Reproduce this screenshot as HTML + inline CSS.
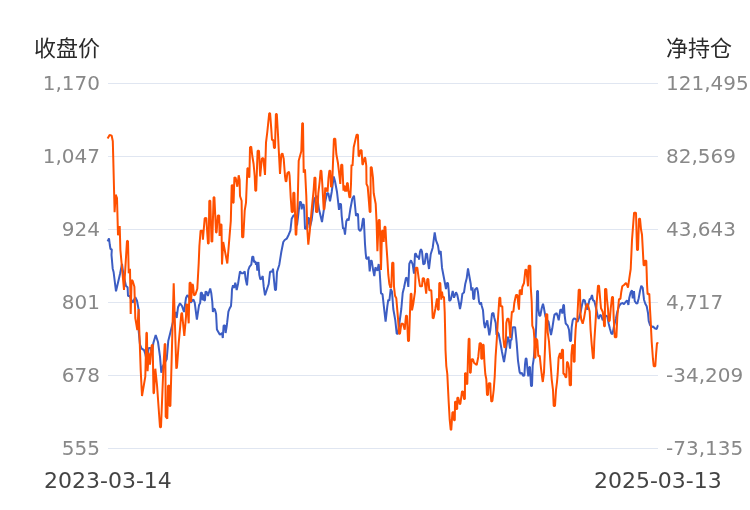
<!DOCTYPE html>
<html><head><meta charset="utf-8">
<style>
html,body{margin:0;padding:0;background:#fff;}
svg{display:block}
text{font-family:"DejaVu Sans","Noto Sans CJK SC",sans-serif;}
.ax{font-size:20px;fill:#888}
.ti{font-size:22px;fill:#2a2a2a;font-family:"Liberation Sans","Noto Sans CJK SC",sans-serif}
.dt{font-size:22px;fill:#444}
</style></head><body>
<svg width="750" height="510" viewBox="0 0 750 510">
<rect width="750" height="510" fill="#fff"/>
<g stroke="#e0e6f1" stroke-width="1" shape-rendering="crispEdges">
<line x1="108" x2="658" y1="83.5" y2="83.5"/>
<line x1="108" x2="658" y1="156.5" y2="156.5"/>
<line x1="108" x2="658" y1="229.5" y2="229.5"/>
<line x1="108" x2="658" y1="302.5" y2="302.5"/>
<line x1="108" x2="658" y1="375.5" y2="375.5"/>
<line x1="108" x2="658" y1="448.5" y2="448.5"/>
</g>
<g class="ax" text-anchor="end">
<text x="100" y="90">1,170</text>
<text x="100" y="163">1,047</text>
<text x="100" y="236">924</text>
<text x="100" y="309">801</text>
<text x="100" y="382">678</text>
<text x="100" y="455">555</text>
</g>
<g class="ax" text-anchor="start">
<text x="666" y="90">121,495</text>
<text x="666" y="163">82,569</text>
<text x="666" y="236">43,643</text>
<text x="666" y="309">4,717</text>
<text x="666" y="382">-34,209</text>
<text x="666" y="455">-73,135</text>
</g>
<g fill="none" stroke-width="2" stroke-linejoin="bevel" stroke-linecap="butt">
<path stroke="#3c5dc3" d="M107.6 241.3 L109.0 238.3 L109.8 245.0 L110.5 249.0 L111.8 249.5 L111.5 255.0 L112.7 268.7 L113.6 272.0 L116.0 291.3 L120.0 274.0 L122.0 264.0 L123.3 274.0 L126.0 286.0 L127.6 287.3 L128.0 296.0 L129.6 296.0 L132.7 302.7 L135.3 297.3 L137.0 300.7 L138.7 310.0 L138.7 331.3 L140.0 344.7 L141.6 348.7 L144.0 350.0 L145.3 354.0 L147.0 362.0 L148.7 348.0 L150.7 348.0 L152.0 354.0 L153.3 343.3 L155.7 335.0 L158.0 342.0 L160.0 356.7 L161.3 372.7 L163.0 366.0 L166.7 359.3 L168.3 340.7 L171.3 328.7 L174.0 318.0 L175.5 312.0 L176.7 318.0 L178.0 307.3 L180.0 303.3 L182.0 306.0 L184.0 312.0 L186.0 298.0 L187.3 295.3 L188.7 296.7 L190.7 302.7 L193.3 299.3 L194.7 302.7 L196.9 319.5 L199.0 305.3 L200.2 302.9 L200.8 292.8 L202.0 292.8 L202.5 300.3 L203.4 294.5 L204.3 300.5 L205.0 300.3 L205.5 291.6 L206.7 292.0 L207.9 296.0 L208.7 293.2 L210.2 288.5 L211.3 293.3 L212.3 302.0 L212.9 312.0 L213.9 308.5 L215.0 309.7 L216.1 314.0 L216.9 329.5 L219.9 334.7 L222.0 333.0 L222.8 338.0 L223.6 325.5 L225.0 325.5 L225.6 333.0 L226.8 325.5 L227.2 322.2 L228.4 311.7 L229.6 308.5 L231.0 306.0 L231.6 298.0 L232.0 289.3 L233.0 285.3 L234.0 288.0 L235.3 282.7 L236.7 290.0 L238.0 284.0 L240.0 271.3 L241.6 273.3 L243.3 273.3 L244.7 271.3 L245.6 278.7 L247.0 285.3 L248.3 270.0 L249.6 266.7 L251.3 264.7 L252.3 256.7 L253.3 256.7 L254.0 262.0 L255.3 261.3 L256.0 264.7 L256.7 262.0 L257.3 270.7 L258.4 262.0 L259.3 274.7 L260.3 279.3 L261.6 278.7 L262.7 276.0 L263.7 286.7 L265.0 295.3 L266.7 290.0 L268.7 284.0 L270.0 272.0 L271.3 271.3 L272.3 272.0 L273.0 268.7 L274.0 280.0 L275.0 290.0 L276.0 290.0 L277.0 272.0 L279.3 264.7 L281.3 252.0 L283.3 242.0 L284.7 240.0 L286.7 238.7 L288.7 234.7 L290.4 230.7 L291.7 218.7 L293.3 215.7 L295.3 214.7 L297.0 225.3 L298.3 214.7 L299.7 202.0 L301.0 202.0 L301.7 209.3 L302.3 204.7 L303.7 204.7 L304.3 210.7 L305.0 228.7 L306.5 228.7 L308.3 218.0 L309.0 218.0 L309.7 228.0 L311.7 220.0 L314.3 198.7 L317.0 196.0 L319.0 209.3 L320.3 214.7 L322.0 222.0 L323.7 210.7 L325.0 202.7 L327.0 193.3 L328.3 193.3 L330.0 201.3 L331.7 192.0 L333.7 176.5 L335.0 181.3 L337.0 192.0 L338.3 203.3 L339.0 210.0 L339.7 204.0 L341.0 204.0 L341.7 216.0 L343.0 228.7 L344.0 228.0 L345.0 234.7 L346.3 221.3 L347.7 218.7 L348.6 220.7 L350.3 209.3 L352.3 198.7 L354.0 195.7 L355.0 205.3 L356.0 216.0 L357.0 214.0 L358.0 214.0 L358.7 229.3 L360.3 231.0 L361.7 228.0 L363.0 218.7 L363.8 218.7 L364.3 229.3 L365.0 244.0 L365.7 253.3 L366.3 258.7 L367.7 258.7 L368.6 256.7 L369.7 271.3 L370.7 260.7 L371.7 260.7 L373.0 269.3 L374.3 276.0 L375.4 267.3 L376.3 268.7 L377.4 270.7 L378.7 264.0 L379.7 272.0 L381.0 293.3 L382.5 294.2 L384.0 307.7 L385.6 321.7 L387.3 306.3 L388.3 299.7 L389.3 301.0 L390.7 289.0 L392.0 291.7 L393.3 309.0 L395.3 320.3 L396.7 333.7 L398.0 333.7 L399.7 321.0 L401.3 309.0 L402.7 293.0 L404.0 287.7 L406.0 277.7 L407.3 278.3 L408.3 287.0 L409.3 263.7 L411.0 260.3 L412.7 264.3 L414.0 273.7 L415.0 253.7 L416.0 253.7 L417.0 257.0 L418.7 256.3 L419.0 259.7 L420.0 251.7 L421.0 249.0 L422.0 251.7 L423.3 264.3 L424.7 263.7 L426.0 253.7 L427.0 253.7 L428.0 262.3 L429.0 269.0 L430.7 254.3 L432.7 247.7 L434.7 232.3 L436.0 240.3 L438.0 245.7 L439.3 254.3 L440.7 251.0 L442.0 267.7 L444.0 278.3 L446.0 289.0 L447.0 283.0 L448.0 283.0 L448.7 290.3 L449.3 301.0 L450.7 299.7 L452.7 291.0 L454.0 297.7 L456.0 292.3 L457.3 295.0 L458.7 301.7 L460.0 309.0 L461.3 302.3 L462.4 293.7 L464.0 292.5 L465.3 283.7 L466.7 278.3 L468.0 268.3 L469.0 274.3 L470.7 283.7 L471.3 290.3 L472.5 287.3 L473.3 299.0 L474.2 299.0 L475.0 289.5 L477.0 287.7 L478.0 292.3 L479.0 301.7 L480.0 304.5 L481.0 302.3 L481.7 305.7 L483.0 310.3 L484.0 323.0 L485.0 328.0 L486.3 323.0 L487.3 320.3 L488.0 326.0 L489.3 335.3 L490.3 330.0 L491.0 323.0 L492.0 313.7 L493.4 313.0 L494.3 317.7 L495.7 323.0 L496.5 335.0 L497.5 332.0 L498.7 334.0 L500.0 340.7 L502.0 352.0 L504.0 362.0 L505.7 351.3 L507.0 342.0 L508.0 336.7 L509.0 340.7 L510.0 348.7 L510.7 340.0 L511.5 340.0 L512.8 327.2 L515.1 327.2 L516.0 336.0 L516.7 343.3 L518.0 360.7 L519.6 372.0 L520.7 374.0 L521.7 372.7 L523.3 376.0 L524.4 375.3 L525.0 364.7 L525.7 358.5 L526.5 358.5 L527.4 368.3 L528.3 376.5 L529.3 367.0 L530.0 367.0 L531.0 386.0 L532.0 386.0 L532.7 365.7 L533.7 359.0 L535.7 337.0 L536.3 323.0 L537.1 291.0 L538.0 291.0 L538.3 308.3 L539.3 315.7 L540.3 315.7 L541.7 308.3 L543.0 303.7 L544.0 308.3 L545.4 316.3 L547.0 320.0 L548.5 321.7 L549.7 328.3 L551.0 335.0 L552.3 328.3 L553.7 319.0 L554.5 314.3 L555.5 314.3 L556.6 313.0 L557.7 316.3 L558.7 320.3 L560.3 309.7 L561.7 309.7 L562.3 313.7 L563.3 305.0 L564.0 305.0 L564.6 315.0 L565.7 323.5 L567.7 325.7 L569.0 329.7 L570.0 341.0 L571.0 341.0 L571.7 327.0 L572.7 320.3 L574.0 318.3 L575.7 319.0 L577.5 322.0 L579.0 318.0 L580.7 311.7 L582.0 305.0 L583.3 299.7 L584.7 300.3 L586.0 306.3 L587.3 309.7 L588.5 304.0 L589.7 299.0 L590.7 299.0 L592.0 295.0 L593.0 300.3 L594.3 301.0 L595.3 305.0 L596.5 310.0 L597.7 315.7 L598.7 319.0 L600.0 315.0 L601.3 315.7 L602.7 320.3 L604.0 318.0 L606.0 315.7 L607.3 316.3 L608.7 323.7 L610.0 329.0 L611.3 333.5 L612.5 334.0 L614.0 326.3 L616.0 318.3 L617.3 311.7 L619.0 306.3 L620.7 303.7 L622.7 303.0 L624.0 304.3 L625.3 302.3 L627.0 300.3 L628.4 305.0 L629.3 297.7 L630.7 292.3 L632.0 290.3 L632.7 298.3 L634.0 291.0 L634.7 301.0 L636.0 303.0 L637.3 303.7 L638.7 298.3 L640.0 291.0 L641.3 285.7 L642.7 287.7 L644.0 299.7 L645.3 303.7 L646.7 306.3 L648.0 313.0 L648.7 321.0 L650.0 325.0 L652.0 327.0 L653.3 326.5 L654.7 328.3 L656.7 329.0 L657.7 325.7 L658.4 325.7"/>
<path stroke="#ff5000" d="M107.6 138.4 L109.6 134.9 L111.7 135.7 L112.8 141.3 L113.3 160.0 L114.0 188.0 L114.6 212.3 L115.7 194.7 L117.0 198.0 L118.0 235.3 L119.7 226.0 L120.4 250.0 L124.0 290.0 L127.0 240.7 L128.0 241.3 L128.7 273.3 L130.0 268.7 L130.7 314.0 L131.6 280.0 L132.7 281.0 L134.4 286.7 L135.3 318.0 L137.3 330.0 L138.6 309.0 L139.5 336.0 L140.7 370.0 L142.0 396.0 L145.3 376.7 L146.4 332.7 L146.9 332.7 L147.6 371.3 L148.7 352.7 L150.0 364.7 L151.7 345.3 L152.7 344.7 L153.5 393.3 L154.0 393.3 L155.3 368.7 L157.0 385.0 L160.0 427.3 L161.0 427.3 L163.3 370.0 L164.7 344.0 L165.3 344.0 L165.7 416.7 L167.3 418.7 L168.0 386.0 L169.3 385.3 L169.6 406.0 L170.4 406.0 L173.7 283.3 L176.3 368.7 L177.0 367.0 L178.7 343.3 L181.3 314.0 L182.0 312.7 L184.3 336.0 L186.0 316.7 L186.4 304.0 L187.3 304.7 L188.7 323.3 L189.6 282.7 L190.7 282.7 L191.0 302.0 L192.3 284.0 L193.0 285.3 L194.0 295.3 L195.3 294.7 L197.3 288.7 L198.7 263.3 L199.4 246.0 L200.6 230.7 L202.4 230.7 L202.9 239.6 L204.7 218.3 L206.3 217.9 L207.0 229.0 L208.0 243.6 L208.7 243.6 L209.3 200.7 L210.3 200.7 L211.5 241.6 L212.3 241.6 L213.6 197.3 L214.4 197.3 L216.0 232.4 L216.6 232.4 L217.8 215.5 L219.2 215.5 L219.6 236.0 L220.5 224.5 L221.5 224.5 L222.0 264.5 L223.2 242.0 L227.3 263.5 L229.6 235.6 L230.8 221.0 L231.7 185.3 L232.7 185.3 L233.0 202.7 L233.6 202.7 L234.4 177.3 L235.7 178.0 L237.3 186.7 L238.7 175.3 L239.6 180.0 L240.0 196.0 L241.6 200.7 L242.1 237.2 L243.3 237.2 L244.7 210.7 L246.0 202.7 L247.4 168.2 L248.0 168.2 L249.0 177.4 L249.4 177.0 L250.0 147.3 L251.2 146.7 L252.3 156.0 L253.6 164.0 L254.7 176.0 L255.3 190.7 L256.2 190.7 L257.6 150.7 L259.0 150.7 L260.2 176.5 L261.8 158.7 L263.3 158.0 L265.0 175.0 L266.0 142.7 L267.3 132.0 L269.2 113.3 L270.1 113.3 L271.3 129.3 L272.0 140.0 L273.3 140.0 L274.0 148.0 L275.0 148.0 L275.9 114.0 L276.8 114.0 L278.0 134.7 L279.0 154.7 L280.0 174.0 L281.3 154.7 L282.4 153.3 L283.7 158.7 L285.0 176.0 L285.7 181.3 L286.4 181.3 L287.3 173.3 L289.0 171.7 L289.6 176.0 L290.7 197.3 L291.7 212.0 L292.9 212.0 L293.3 192.7 L294.4 192.7 L295.7 234.7 L296.3 234.7 L297.7 202.0 L298.7 160.7 L301.3 151.3 L302.2 123.3 L303.0 123.3 L303.7 172.7 L305.0 169.3 L306.3 196.0 L307.3 229.3 L308.3 244.7 L309.7 232.0 L311.7 209.3 L313.7 189.3 L314.5 177.3 L315.5 178.0 L316.0 212.0 L317.4 212.0 L318.3 193.3 L319.7 181.3 L320.6 170.7 L321.4 170.7 L322.3 184.0 L323.7 209.3 L324.4 209.3 L325.2 187.5 L326.0 191.5 L326.8 187.8 L327.6 191.7 L328.5 178.0 L329.4 170.7 L330.3 170.7 L331.0 186.7 L331.7 186.7 L332.5 176.0 L333.9 138.7 L335.3 138.7 L336.3 154.0 L338.0 163.3 L339.7 178.0 L340.3 184.0 L341.2 164.7 L342.3 164.7 L343.5 190.7 L344.4 185.5 L345.2 191.5 L346.0 186.0 L346.4 191.8 L347.0 182.8 L347.8 183.3 L348.3 189.3 L349.4 197.3 L350.3 197.3 L351.0 184.0 L351.5 164.7 L352.5 166.0 L353.7 147.3 L356.6 134.7 L357.9 134.7 L358.6 156.3 L359.2 156.0 L360.5 150.3 L361.6 150.3 L362.4 164.5 L363.0 164.3 L364.5 157.6 L365.3 158.0 L366.3 166.0 L366.5 184.0 L367.7 186.7 L369.0 202.7 L369.7 212.0 L370.5 212.0 L370.7 167.3 L371.7 167.3 L373.0 178.0 L373.7 193.3 L375.7 204.0 L376.6 222.7 L377.4 251.3 L378.7 220.0 L379.7 220.0 L381.0 270.0 L382.0 230.7 L383.0 230.7 L383.7 242.0 L384.5 226.7 L385.4 226.7 L386.3 244.0 L387.3 258.3 L388.3 274.7 L389.3 283.7 L390.4 287.7 L391.3 287.0 L392.2 262.7 L393.4 262.7 L394.0 286.7 L395.0 295.7 L396.3 298.3 L398.0 318.3 L399.0 333.7 L400.0 333.7 L401.3 323.7 L403.0 323.7 L404.7 329.7 L406.0 315.7 L407.0 315.7 L408.0 341.0 L409.0 341.0 L410.0 311.7 L410.7 293.7 L411.5 293.7 L412.0 310.3 L413.3 303.7 L415.0 291.7 L415.7 267.7 L417.3 267.7 L418.7 278.3 L420.0 286.3 L422.0 286.3 L422.7 278.3 L424.0 278.3 L425.0 284.0 L426.2 293.7 L427.3 279.0 L428.3 279.0 L429.3 290.3 L431.3 290.3 L432.0 302.3 L432.7 318.3 L433.6 318.0 L435.3 309.0 L437.0 298.3 L438.0 309.7 L438.7 309.7 L439.3 283.0 L440.3 283.0 L440.7 291.0 L441.3 299.7 L442.0 291.7 L442.7 297.0 L444.0 297.0 L444.7 311.7 L445.3 338.3 L445.5 350.0 L446.3 366.0 L447.3 374.0 L448.7 402.3 L449.7 419.7 L450.7 429.7 L451.3 429.7 L452.4 412.3 L453.7 412.3 L454.0 420.3 L454.8 420.3 L455.0 401.7 L456.1 401.7 L456.4 409.0 L457.2 409.0 L457.3 397.7 L458.3 397.7 L459.6 404.3 L460.4 403.7 L462.0 391.5 L463.0 391.5 L464.0 399.0 L464.9 399.0 L465.0 373.3 L466.0 373.3 L466.7 384.0 L467.3 384.0 L468.0 356.7 L468.7 338.7 L469.5 338.7 L470.0 372.7 L470.7 372.7 L471.6 359.3 L473.0 359.3 L474.0 362.7 L476.7 365.0 L478.3 356.7 L479.6 343.3 L481.0 343.3 L481.3 358.7 L482.3 358.7 L482.7 344.7 L483.6 344.7 L484.4 362.0 L485.3 374.0 L486.3 379.3 L487.0 395.0 L488.0 395.0 L488.7 383.3 L490.3 383.3 L490.7 394.0 L491.3 401.7 L492.4 401.0 L493.7 390.0 L494.7 376.7 L495.6 356.7 L496.7 340.7 L497.7 323.0 L498.7 308.3 L499.4 297.7 L500.3 297.7 L500.7 306.3 L502.3 306.3 L503.0 323.0 L503.3 338.0 L504.4 347.3 L505.3 347.3 L506.0 336.7 L506.3 323.0 L507.3 318.7 L508.6 318.7 L509.5 326.0 L510.3 338.0 L511.0 323.0 L511.9 311.7 L513.4 311.7 L514.3 303.0 L516.0 295.0 L517.4 295.0 L518.3 304.3 L519.0 309.7 L519.7 290.3 L521.0 290.3 L521.7 295.0 L522.3 287.0 L524.0 283.0 L525.4 269.7 L526.3 269.7 L527.3 279.0 L528.0 286.3 L528.6 265.7 L530.3 265.7 L530.7 286.3 L531.7 301.7 L532.3 325.7 L533.7 329.7 L534.3 337.7 L534.6 357.7 L535.4 357.7 L536.0 338.3 L537.3 340.3 L538.3 356.3 L539.7 355.7 L541.0 368.3 L542.3 379.0 L542.8 382.0 L544.0 372.3 L545.0 348.3 L545.7 325.7 L546.0 314.3 L547.3 314.3 L547.7 332.3 L549.0 341.7 L550.3 360.3 L551.7 379.3 L553.0 390.0 L553.7 406.0 L555.0 406.0 L556.0 390.0 L557.0 382.0 L557.7 373.7 L558.6 357.7 L560.0 353.0 L561.0 359.0 L562.0 349.7 L563.0 349.7 L563.4 373.7 L564.3 374.0 L565.7 377.3 L566.3 377.3 L567.0 361.7 L568.0 363.0 L569.0 368.3 L569.7 385.3 L571.0 385.3 L571.4 355.0 L572.3 345.0 L573.3 345.0 L573.7 361.7 L574.6 361.7 L575.0 341.7 L575.6 330.0 L576.4 321.0 L577.3 321.0 L577.7 310.3 L578.7 289.7 L580.0 289.7 L580.4 313.0 L581.3 319.7 L582.7 323.7 L584.0 318.3 L586.0 306.3 L587.3 303.7 L588.7 307.7 L589.7 311.7 L590.6 330.0 L591.7 344.3 L593.0 358.3 L593.7 358.3 L594.3 341.7 L595.6 321.0 L596.7 302.3 L598.0 285.7 L599.0 285.7 L600.0 297.0 L601.0 308.3 L602.7 311.7 L603.6 318.3 L604.1 326.3 L604.9 326.3 L605.0 289.0 L606.3 289.0 L607.0 299.7 L608.0 309.0 L608.7 321.0 L609.7 321.0 L610.7 309.0 L612.0 297.0 L613.0 297.0 L613.7 318.3 L614.8 337.3 L616.4 337.3 L617.3 317.0 L618.3 306.3 L619.0 299.0 L620.4 299.0 L621.3 291.7 L622.3 286.3 L624.0 285.0 L626.0 283.0 L627.0 285.0 L628.0 287.7 L629.3 278.3 L630.7 269.0 L632.0 240.0 L634.1 212.7 L636.0 212.7 L637.0 250.0 L638.0 250.0 L639.0 218.7 L640.0 218.7 L641.0 229.3 L642.0 234.7 L643.0 253.3 L643.6 265.3 L644.6 265.3 L645.0 260.7 L646.3 260.7 L646.7 273.0 L647.0 283.7 L647.6 294.3 L649.3 293.7 L650.0 309.0 L650.7 321.0 L651.1 330.0 L651.7 342.0 L652.9 358.2 L653.7 366.2 L655.3 366.2 L656.1 354.1 L657.0 342.9 L658.3 343.7"/>
</g>
<text class="ti" x="34" y="56">收盘价</text>
<text class="ti" x="666" y="56">净持仓</text>
<text class="dt" x="44" y="488">2023-03-14</text>
<text class="dt" x="721.8" y="488" text-anchor="end">2025-03-13</text>
</svg>
</body></html>
